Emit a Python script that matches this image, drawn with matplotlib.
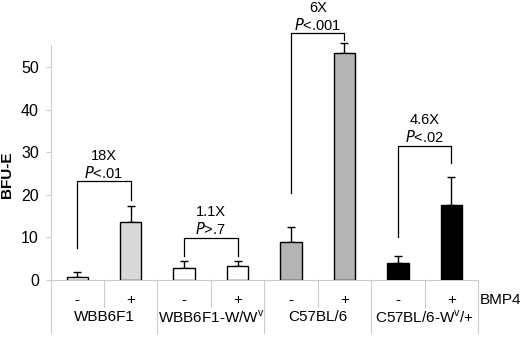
import matplotlib.pyplot as plt
from matplotlib.transforms import blended_transform_factory

plt.rcParams['font.family'] = ['Liberation Sans', 'DejaVu Sans']

strains = ['WBB6F1', 'WBB6F1-W/W$^{\\mathregular{v}}$', 'C57BL/6', 'C57BL/6-W$^{\\mathregular{v}}$/+']
bmp4 = ['-', '+', '-', '+', '-', '+', '-', '+']
bfu = [0.8, 13.5, 2.7, 3.2, 9.0, 53.2, 3.9, 17.6]
err = [1.0, 3.9, 1.8, 1.3, 3.5, 2.3, 1.8, 6.5]
colors = ['white', '#d9d9d9', 'white', 'white', '#b4b4b4', '#b4b4b4', 'black', 'black']

# fold change, p value, bracket top, left foot, right foot
folds = ['18X', '1.1X', '6X', '4.6X']
pvals = ['<.01', '>.7', '<.001', '<.02']
br_top = [23.2, 9.9, 57.9, 31.5]
br_left = [7.5, 5.6, 20.3, 10.2]
br_right = [18.8, 5.6, 56.3, 27.4]

fig = plt.figure(figsize=(5.2, 3.39), dpi=100)
ax = fig.add_axes([50.5 / 520, 59 / 339, (478 - 50.5) / 520, 280 / 339])

x = list(range(len(bfu)))
ax.bar(x, bfu, width=0.4, color=colors, edgecolor='black', linewidth=1.0, zorder=3)
ax.errorbar(x, bfu, yerr=[[0] * len(err), err], fmt='none', ecolor='black',
            elinewidth=1.0, capsize=3, capthick=1.0, zorder=2)

for i in range(4):
    l, r = 2 * i, 2 * i + 1
    ax.plot([l, l, r, r], [br_left[i], br_top[i], br_top[i], br_right[i]],
            color='black', lw=0.9, zorder=4)
    cx = (l + r) / 2
    ax.text(cx, br_top[i] + 2.0, '$\\it{P}$' + pvals[i], ha='center', va='center', fontsize=10.5)
    ax.text(cx, br_top[i] + 6.0, folds[i], ha='center', va='center', fontsize=10.5)

ax.set_xlim(-0.5, 7.5)
ax.set_ylim(0, 65.7)
ax.set_yticks([0, 10, 20, 30, 40, 50])
ax.set_xticks([])
ax.tick_params(axis='y', length=3.8, color='#cccccc', labelsize=11.5, pad=4.5)
for s in ['top', 'right']:
    ax.spines[s].set_visible(False)
ax.spines['left'].set_color('#cccccc')
ax.spines['left'].set_bounds(0, 55.2)
ax.spines['bottom'].set_color('#cccccc')
ax.set_ylabel('BFU-E', fontsize=11, fontweight='bold')
ax.yaxis.set_label_coords(-0.086, 0.375)

# category table under the axis
tr = blended_transform_factory(ax.transData, ax.transAxes)
px = 1 / 280.0
for k in range(9):
    long = k % 2 == 0
    ax.plot([k - 0.5, k - 0.5], [0, -(53 if long else 27) * px], transform=tr,
            color='#cccccc', lw=0.8, clip_on=False)
for i, lab in enumerate(bmp4):
    ax.text(i, -20 * px, lab, transform=tr, ha='center', va='center', fontsize=11)
for i, s in enumerate(strains):
    ax.text(2 * i + 0.5, -37 * px, s, transform=tr, ha='center', va='center', fontsize=11)
ax.text(7.53, -20 * px, 'BMP4', transform=tr, ha='left', va='center', fontsize=11)

fig.savefig('out.png', dpi=100)
